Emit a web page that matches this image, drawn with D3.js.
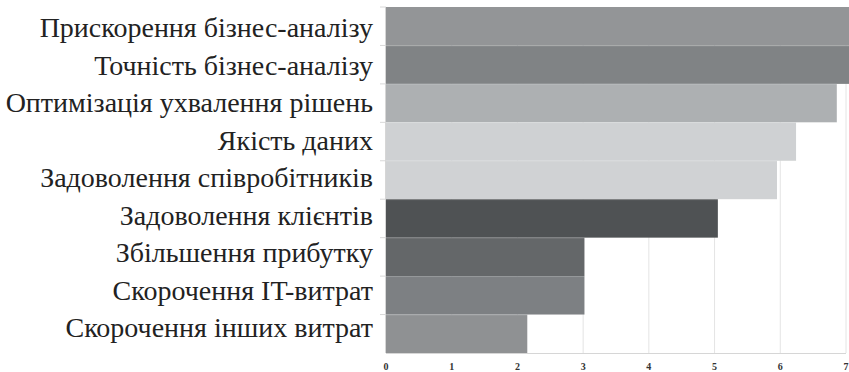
<!DOCTYPE html>
<html>
<head>
<meta charset="utf-8">
<script src="https://cdn.jsdelivr.net/npm/d3@7"></script>
<style>
  body { margin: 0; background: #fff; }
  svg { display: block; }
  .label { font-family: "Liberation Serif", "Times New Roman", Times, serif; }
</style>
</head>
<body>
<svg width="849" height="372"></svg>
<script>
var categories = ["Прискорення бізнес-аналізу", "Точність бізнес-аналізу", "Оптимізація ухвалення рішень",
  "Якість даних", "Задоволення співробітників", "Задоволення клієнтів",
  "Збільшення прибутку", "Скорочення IT-витрат", "Скорочення інших витрат"]
var values = [7.05, 7.05, 6.86, 6.24, 5.95, 5.05, 3.02, 3.02, 2.15]
var barColors = ["#939597", "#808385", "#adb0b2", "#cfd1d3", "#d0d2d4", "#4f5254", "#646769", "#7d8083", "#8f9193"]
var xTicks = [0, 1, 2, 3, 4, 5, 6, 7]

var svg = d3.select("svg"),
  plotLeft = 386, plotRight = 846, plotTop = 7, plotBottom = 353

var xScale = d3.scaleLinear().domain([0, 7]).range([plotLeft, plotRight])
var yScale = d3.scaleBand().domain(categories).range([plotTop, plotBottom]).padding(0)
// labels sit on a slightly tighter spacing than the bars
var labelScale = d3.scalePoint().domain(categories).range([37, 337])

// vertical grid lines
svg.append("g")
  .selectAll("line")
  .data(xTicks.slice(1))
  .enter().append("line")
  .attr("x1", function(d) { return xScale(d) })
  .attr("x2", function(d) { return xScale(d) })
  .attr("y1", plotTop)
  .attr("y2", plotBottom)
  .attr("stroke", "#e4e4e4")
  .attr("stroke-width", 1)

// small left ticks between bars
svg.append("g")
  .selectAll("line")
  .data(categories)
  .enter().append("line")
  .attr("x1", plotLeft - 6)
  .attr("x2", plotLeft)
  .attr("y1", function(d) { return yScale(d) })
  .attr("y2", function(d) { return yScale(d) })
  .attr("stroke", "#d8d8d8")

svg.append("g")
  .selectAll("rect")
  .data(categories)
  .enter().append("rect")
  .attr("x", xScale(0))
  .attr("y", function(d) { return yScale(d) })
  .attr("width", function(d, i) { return xScale(values[i]) - xScale(0) })
  .attr("height", yScale.bandwidth())
  .attr("fill", function(d, i) { return barColors[i] })

// thin separators between bars
svg.append("g")
  .selectAll("line")
  .data(categories.slice(1))
  .enter().append("line")
  .attr("x1", plotLeft)
  .attr("x2", function(d) {
    var i = categories.indexOf(d)
    return xScale(Math.max(values[i], values[i - 1]))
  })
  .attr("y1", function(d) { return yScale(d) + 0.5 })
  .attr("y2", function(d) { return yScale(d) + 0.5 })
  .attr("stroke", "#ffffff")
  .attr("stroke-opacity", 0.12)

// axis lines
svg.append("line")
  .attr("x1", plotLeft)
  .attr("x2", plotRight)
  .attr("y1", plotBottom + 0.5)
  .attr("y2", plotBottom + 0.5)
  .attr("stroke", "#d6d6d6")

svg.append("line")
  .attr("x1", plotLeft - 0.5)
  .attr("x2", plotLeft - 0.5)
  .attr("y1", plotTop)
  .attr("y2", plotBottom)
  .attr("stroke", "#d6d6d6")

// x tick labels
svg.append("g")
  .selectAll("text")
  .data(xTicks)
  .enter().append("text")
  .attr("class", "label")
  .attr("x", function(d) { return xScale(d) })
  .attr("y", 370)
  .attr("text-anchor", "middle")
  .attr("font-weight", "bold")
  .attr("font-size", "10px")
  .attr("fill", "#333")
  .text(function(d) { return d })

// category labels
svg.append("g")
  .selectAll("text")
  .data(categories)
  .enter().append("text")
  .attr("class", "label")
  .attr("x", 373)
  .attr("y", function(d) { return labelScale(d) })
  .attr("text-anchor", "end")
  .attr("font-size", "28px")
  .attr("fill", "#222")
  .text(function(d) { return d })
</script>
</body>
</html>
